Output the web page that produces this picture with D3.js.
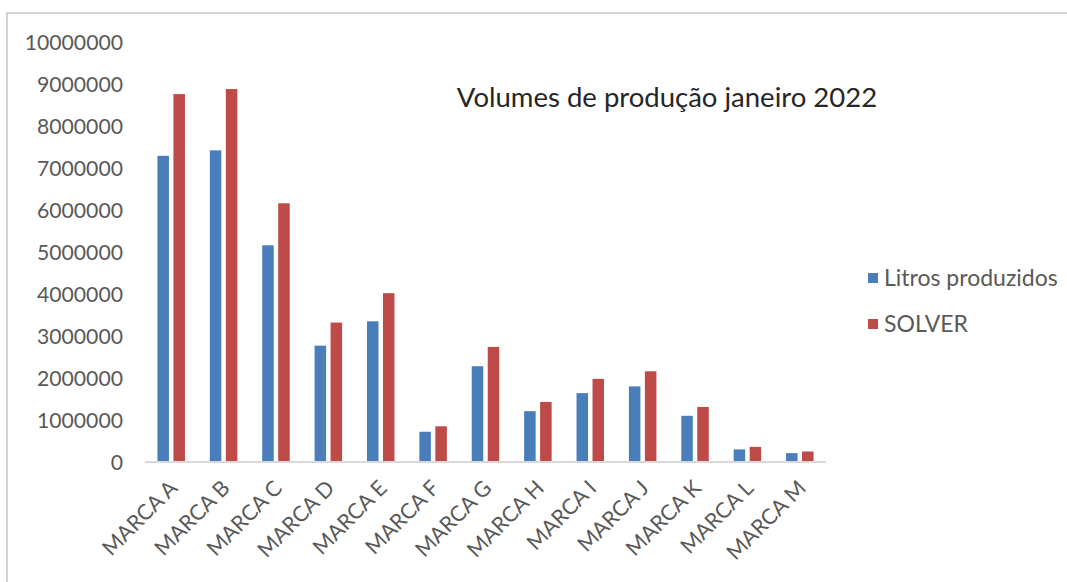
<!DOCTYPE html>
<html>
<head>
<meta charset="utf-8">
<script src="https://cdn.jsdelivr.net/npm/d3@7"></script>
<style>
  html, body { margin: 0; padding: 0; background: #fff; }
  svg { display: block; }
  text { font-family: Lato, "Open Sans", sans-serif; }
</style>
</head>
<body>
<svg id="chart" width="1067" height="582"></svg>
<script>
// Brands and monthly production volumes (litres)
const categories = ["MARCA A", "MARCA B", "MARCA C", "MARCA D", "MARCA E", "MARCA F", "MARCA G",
                    "MARCA H", "MARCA I", "MARCA J", "MARCA K", "MARCA L", "MARCA M"];
const seriesNames = ["Litros produzidos", "SOLVER"];
const litrosProduzidos = [7290000, 7420000, 5160000, 2770000, 3350000, 720000, 2280000,
                          1210000, 1640000, 1800000, 1100000, 300000, 210000];
const solver = [8760000, 8880000, 6160000, 3320000, 4020000, 850000, 2740000,
                1430000, 1980000, 2160000, 1310000, 360000, 250000];
const yTicks = [0, 1000000, 2000000, 3000000, 4000000, 5000000, 6000000, 7000000, 8000000, 9000000, 10000000];
const title = "Volumes de produção janeiro 2022";
const colors = ["#4a7ebb", "#be4b48"];

const svg = d3.select("#chart");

// chart-area frame (top and left edges)
svg.append("path")
  .attr("d", "M7,582 V13 H1067")
  .attr("fill", "none")
  .attr("stroke", "#d4d4d4")
  .attr("stroke-width", 2);

const x = d3.scaleBand().domain(categories).range([145, 826])
  .paddingInner(0.475).paddingOuter(0.2375);
const xs = d3.scaleBand().domain(seriesNames).range([0, x.bandwidth()]).paddingInner(0.28);
const y = d3.scaleLinear().domain([0, 10000000]).range([462, 42]);

// y tick labels
svg.append("g")
  .selectAll("text")
  .data(yTicks)
  .join("text")
  .attr("x", 123)
  .attr("y", d => y(d))
  .attr("dy", "0.36em")
  .attr("text-anchor", "end")
  .attr("font-size", 21.2)
  .attr("fill", "#595959")
  .text(d => String(d));

// bars
const seriesData = [litrosProduzidos, solver];
seriesNames.forEach((name, si) => {
  svg.append("g")
    .attr("fill", colors[si])
    .selectAll("rect")
    .data(categories.map((c, i) => ({ c, v: seriesData[si][i] })))
    .join("rect")
    .attr("x", d => x(d.c) + xs(name))
    .attr("width", xs.bandwidth())
    .attr("y", d => y(d.v))
    .attr("height", d => y(0) - y(d.v));
});

// category axis
svg.append("line")
  .attr("x1", 145).attr("x2", 826)
  .attr("y1", y(0)).attr("y2", y(0))
  .attr("stroke", "#d9d9d9")
  .attr("stroke-width", 2);

svg.append("g")
  .selectAll("text")
  .data(categories)
  .join("text")
  .attr("transform", d => `translate(${x(d) + x.bandwidth() / 2 + 2},${y(0) + 22}) rotate(-45)`)
  .attr("text-anchor", "end")
  .attr("dy", "0.36em")
  .attr("font-size", 21.5)
  .attr("fill", "#595959")
  .text(d => d);

// title
svg.append("text")
  .attr("x", 667)
  .attr("y", 107)
  .attr("text-anchor", "middle")
  .attr("font-size", 27.5)
  .attr("fill", "#262626")
  .text(title);

// legend
const legend = svg.append("g")
  .selectAll("g")
  .data(seriesNames)
  .join("g")
  .attr("transform", (d, i) => `translate(868,${278 + i * 46})`);
legend.append("rect")
  .attr("x", 0).attr("y", -5)
  .attr("width", 10).attr("height", 10)
  .attr("fill", (d, i) => colors[i]);
legend.append("text")
  .attr("x", 16)
  .attr("dy", "0.36em")
  .attr("font-size", 23)
  .attr("fill", "#595959")
  .text(d => d);
</script>
</body>
</html>
